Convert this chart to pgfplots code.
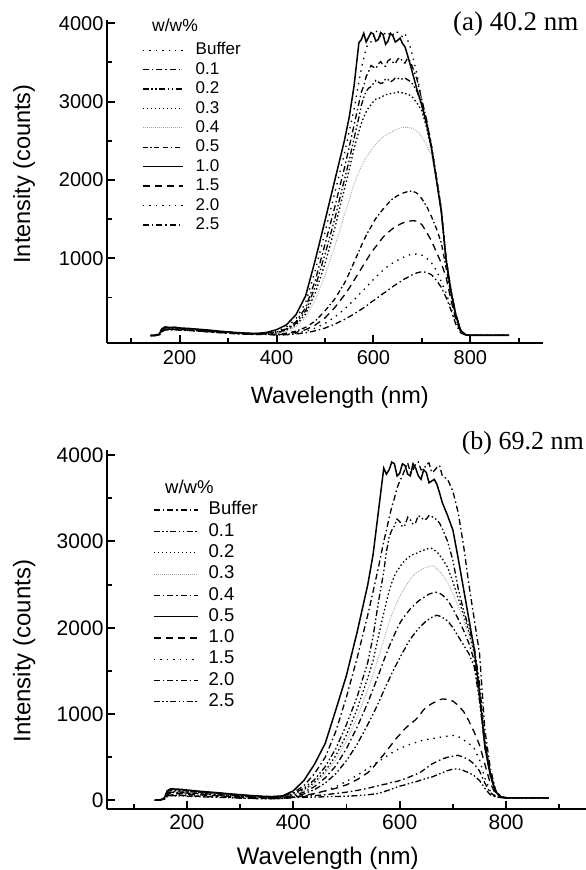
\documentclass[border=0pt]{standalone}
\usepackage{pgfplots}
\pgfplotsset{compat=1.18}
\usepackage{pgfplotstable}
\usepackage{fontspec}
\setmainfont{Liberation Sans}
\newfontfamily\seriffont{Liberation Serif}

\pgfplotstableread{
lam buf c01 c02 c03 c04 c05 c10 c15 c20 c25
140 15 15 15 15 15 15 15 15 15 15
150 18 18 17 17 16 16 20 16 15 15
158 30 32 28 30 26 25 35 24 22 20
163 90 95 85 88 80 75 100 70 65 60
170 115 120 110 112 105 100 125 95 92 88
180 110 112 105 106 100 95 118 92 88 85
190 112 115 108 110 102 98 122 95 90 88
200 105 108 100 102 96 92 112 90 86 83
220 98 100 94 96 90 86 105 84 80 78
240 88 90 85 86 80 77 95 75 72 70
260 78 80 75 76 70 68 85 66 63 61
280 66 68 64 65 60 58 72 56 54 52
300 56 58 55 55 52 50 62 48 46 44
320 48 50 47 47 44 42 52 40 38 36
340 42 43 40 41 38 36 45 35 33 31
360 40 40 38 38 36 34 42 32 30 28
380 50 48 45 44 42 38 55 35 32 30
400 70 60 50 45 40 30 90 25 20 20
420 120 100 90 80 70 45 150 35 30 25
440 230 190 170 150 130 70 280 55 45 35
460 430 370 330 290 250 120 520 90 70 50
480 850 720 640 560 470 200 980 150 110 75
500 1330 1180 1050 930 780 330 1480 240 170 110
520 1830 1650 1500 1380 1150 480 1990 370 250 160
540 2330 2150 2000 1880 1550 680 2500 530 350 220
550 2620 2420 2250 2130 1750 810 2800 620 410 255
560 2900 2700 2530 2400 1950 950 3200 720 470 290
570 3250 2980 2800 2620 2100 1090 3750 820 535 330
575 3420 3120 2950 2720 2170 1160 3790 870 570 350
580 3550 3200 3050 2800 2230 1230 3870 920 600 370
585 3680 3320 3130 2870 2290 1290 3760 970 630 390
590 3750 3380 3170 2920 2330 1350 3820 1020 665 415
595 3760 3460 3190 2960 2370 1400 3880 1070 700 440
600 3820 3440 3230 3000 2420 1460 3860 1110 730 460
605 3900 3420 3270 3030 2460 1510 3770 1150 760 480
610 3880 3480 3250 3040 2490 1550 3790 1190 790 505
615 3820 3510 3230 3050 2520 1590 3880 1230 820 530
620 3840 3460 3240 3070 2550 1630 3850 1270 850 550
625 3880 3450 3290 3090 2570 1660 3730 1300 875 570
630 3890 3520 3280 3090 2590 1700 3770 1330 900 595
635 3830 3540 3250 3100 2600 1730 3870 1355 920 615
640 3850 3500 3270 3110 2620 1760 3840 1380 940 640
645 3900 3480 3300 3110 2640 1780 3760 1400 960 660
650 3880 3540 3300 3120 2650 1800 3780 1420 975 680
655 3840 3560 3280 3120 2660 1815 3810 1435 995 700
660 3830 3510 3290 3110 2670 1830 3740 1450 1010 720
665 3870 3490 3300 3100 2670 1840 3700 1460 1020 740
670 3790 3550 3280 3100 2670 1850 3600 1470 1035 755
675 3720 3520 3260 3080 2665 1855 3490 1475 1045 775
680 3600 3450 3230 3060 2660 1860 3380 1480 1050 790
690 3350 3280 3130 2980 2620 1830 3150 1475 1055 815
700 3000 3020 2950 2880 2550 1760 2950 1430 1040 830
710 2750 2760 2720 2660 2440 1660 2700 1330 1000 820
720 2450 2420 2400 2380 2300 1530 2400 1220 940 790
730 2050 2030 2020 2010 2000 1380 2000 1080 850 720
740 1650 1620 1610 1600 1580 1200 1600 940 700 630
750 1000 990 985 975 960 880 980 760 560 500
760 600 590 585 580 570 540 580 470 370 340
770 290 285 280 275 270 260 280 220 180 160
780 85 80 80 78 75 75 80 65 55 50
790 25 25 25 25 25 25 25 25 22 22
800 18 18 18 18 18 18 18 18 18 18
820 18 18 18 18 18 18 18 18 18 18
850 18 18 18 18 18 18 18 18 18 18
880 18 18 18 18 18 18 18 18 18 18
}\toptab

\pgfplotstableread{
lam buf c01 c02 c03 c04 cx c05 c10 c15 c20 c25
140 2 2 2 2 2 2 2 2 2 2 2
150 5 5 4 4 4 4 5 3 3 2 2
158 28 27 26 24 23 21 30 18 15 14 12
163 105 99 94 88 83 77 110 66 55 50 44
170 128 122 115 108 101 95 135 81 68 61 54
180 124 117 111 104 98 91 130 78 65 59 52
190 122 115 109 102 96 90 128 77 64 58 51
200 114 108 102 96 90 84 120 72 60 54 48
220 103 97 92 86 81 76 108 65 54 49 43
240 93 88 83 78 74 69 98 59 49 44 39
260 84 79 75 70 66 62 88 53 44 40 35
280 72 68 65 61 57 53 76 46 38 34 30
300 63 59 56 53 50 46 66 40 33 30 26
320 53 50 48 45 42 39 56 34 28 25 22
340 46 43 41 38 36 34 48 29 24 22 19
360 42 40 37 35 33 31 44 26 22 20 18
380 49 47 44 42 39 36 52 31 26 23 21
400 90 80 70 65 55 45 110 40 35 35 32
420 170 140 120 110 95 75 230 55 50 45 35
440 310 240 210 190 160 125 420 80 75 55 38
460 500 390 340 310 260 200 660 110 110 65 42
480 800 600 520 470 400 310 1050 140 160 80 45
500 1200 880 760 690 600 460 1450 180 220 95 48
520 1650 1200 1060 960 850 650 1950 240 290 115 55
540 2150 1600 1420 1280 1130 880 2500 320 370 140 65
550 2420 1900 1620 1460 1290 1000 2850 380 410 155 72
560 2700 2300 1900 1650 1450 1130 3350 460 450 170 80
570 3000 2650 2170 1860 1620 1270 3850 530 490 185 100
575 3130 2880 2300 1960 1700 1340 3780 570 510 190 110
580 3270 3050 2420 2060 1780 1400 3830 610 530 200 120
585 3400 3130 2520 2150 1850 1470 3920 650 550 210 130
590 3500 3180 2600 2220 1920 1530 3900 690 570 215 145
595 3620 3260 2660 2300 1990 1590 3760 730 585 220 155
600 3700 3230 2700 2360 2050 1650 3790 760 600 230 165
605 3760 3170 2750 2420 2100 1710 3900 800 615 240 172
610 3840 3190 2780 2470 2140 1760 3880 830 625 250 180
615 3910 3280 2810 2520 2180 1820 3780 860 640 262 190
620 3800 3250 2830 2560 2220 1870 3760 880 650 275 200
625 3830 3200 2850 2600 2250 1910 3900 910 660 288 208
630 3900 3220 2860 2630 2280 1950 3850 935 670 300 215
635 3920 3300 2870 2650 2310 1990 3760 970 680 315 225
640 3830 3280 2890 2670 2330 2020 3720 1010 690 330 235
645 3840 3250 2900 2690 2350 2050 3830 1050 698 352 245
650 3890 3260 2910 2700 2370 2080 3800 1080 705 375 255
655 3910 3300 2920 2710 2390 2100 3680 1100 710 398 262
660 3800 3290 2920 2720 2400 2120 3700 1120 715 420 270
665 3820 3270 2900 2710 2410 2135 3720 1135 720 435 282
670 3860 3250 2880 2680 2410 2145 3660 1150 725 450 295
675 3880 3210 2840 2650 2400 2135 3560 1165 730 465 308
680 3760 3150 2800 2620 2380 2120 3450 1175 735 480 320
690 3720 3000 2700 2520 2320 2080 3300 1170 745 500 345
700 3580 2780 2530 2400 2220 2000 3130 1150 752 512 362
710 3330 2450 2340 2250 2100 1900 2800 1100 740 522 365
720 2950 2200 2150 2080 1970 1800 2450 1030 700 500 345
730 2500 2000 1950 1900 1820 1700 2100 920 660 470 320
740 2100 1780 1720 1680 1620 1550 1750 790 600 420 285
750 1700 1350 1300 1250 1200 1150 1250 640 470 340 230
760 820 700 680 660 640 620 620 420 260 200 140
770 380 330 320 310 300 290 300 200 110 90 65
780 120 110 105 100 100 95 100 75 50 45 38
790 45 42 40 40 40 38 40 35 32 32 32
800 30 30 30 30 30 30 30 30 30 30 30
820 30 30 30 30 30 30 30 30 30 30 30
850 30 30 30 30 30 30 30 30 30 30 30
880 30 30 30 30 30 30 30 30 30 30 30
}\bottab

\tikzset{
  sdot/.style={dash pattern=on 1.4pt off 5pt},
  dd/.style={dash pattern=on 6pt off 3pt on 1.5pt off 3pt},
  ddd/.style={dash pattern=on 6pt off 2.5pt on 1.5pt off 2.5pt on 1.5pt off 2.5pt},
  ndot/.style={dash pattern=on 1.5pt off 2.5pt},
  gdot/.style={gray!70, line width=1pt, dash pattern=on 0.8pt off 1.2pt},
  ddash/.style={dash pattern=on 5pt off 2.5pt on 1.5pt off 2.5pt on 5pt off 4pt},
  ldash/.style={dash pattern=on 7pt off 5pt},
}

\pgfplotsset{
  panel/.style={
    scale only axis,
    axis lines*=left,
    xmin=50, xmax=950,
    xtick={200,400,600,800},
    minor xtick={100,300,500,700,900},
    tick align=inside,
    major tick length=8pt, minor tick length=5pt,
    axis line style={line width=2.4pt, black},
    major tick style={line width=2pt, black},
    minor tick style={line width=1.8pt, black},
    /pgf/number format/assume math mode=true,
    /pgf/number format/1000 sep={},
    legend cell align=left,
    legend image code/.code={\draw[##1] (0pt,0pt) -- (40pt,0pt);},
    every axis plot/.append style={black, line width=1.3pt},
  },
}

\begin{document}
\begin{tikzpicture}
\path[use as bounding box] (0,0) rectangle (586pt,870pt);

% ---------- panel (a) ----------
\begin{axis}[panel,
  at={(107pt,527pt)}, anchor=south west,
  width=436pt, height=323pt,
  ymin=-80, ymax=4040,
  ytick={1000,2000,3000,4000},
  minor ytick={500,1500,2500,3500},
  tick label style={font=\fontsize{20}{20}\selectfont},
  xticklabel style={yshift=-4pt},
  xlabel={Wavelength (nm)},
  ylabel={Intensity (counts)},
  xlabel style={at={(axis description cs:0.534,-0.167)}, anchor=center, font=\fontsize{23.5}{23.5}\selectfont},
  ylabel style={at={(axis description cs:-0.190,0.523)}, anchor=center, font=\fontsize{23.5}{23.5}\selectfont},
  legend style={at={(axis description cs:0.0803,0.930)}, anchor=north west, draw=none, fill=none,
    font=\fontsize{17}{17}\selectfont, inner sep=0pt, row sep=4.4pt,
    nodes={inner sep=0pt, text height=12pt, text depth=3pt},
    /tikz/every odd column/.append style={column sep=12pt}},
]
\addplot[sdot] table[x=lam,y=buf]{\toptab}; \addlegendentry{Buffer}
\addplot[dd] table[x=lam,y=c01]{\toptab}; \addlegendentry{0.1}
\addplot[ddd] table[x=lam,y=c02]{\toptab}; \addlegendentry{0.2}
\addplot[ndot] table[x=lam,y=c03]{\toptab}; \addlegendentry{0.3}
\addplot[gdot] table[x=lam,y=c04]{\toptab}; \addlegendentry{0.4}
\addplot[ddash] table[x=lam,y=c05]{\toptab}; \addlegendentry{0.5}
\addplot[solid, line width=1.5pt] table[x=lam,y=c10]{\toptab}; \addlegendentry{1.0}
\addplot[ldash] table[x=lam,y=c15]{\toptab}; \addlegendentry{1.5}
\addplot[sdot] table[x=lam,y=c20]{\toptab}; \addlegendentry{2.0}
\addplot[dd] table[x=lam,y=c25]{\toptab}; \addlegendentry{2.5}
\end{axis}
\node[anchor=west, inner sep=0pt, font=\fontsize{17.5}{17.5}\selectfont] at (152pt,845pt) {w/w\%};
\node[anchor=west, inner sep=0pt, font=\seriffont\fontsize{27}{27}\selectfont] at (453pt,846pt) {(a) 40.2 nm};

% ---------- panel (b) ----------
\begin{axis}[panel,
  at={(107pt,61pt)}, anchor=south west,
  width=479pt, height=359pt,
  ymin=-100, ymax=4060,
  ytick={0,1000,2000,3000,4000},
  minor ytick={500,1500,2500,3500},
  tick label style={font=\fontsize{21}{21}\selectfont},
  xticklabel style={yshift=-2pt},
  xlabel={Wavelength (nm)},
  ylabel={Intensity (counts)},
  xlabel style={at={(axis description cs:0.461,-0.136)}, anchor=center, font=\fontsize{24}{24}\selectfont},
  ylabel style={at={(axis description cs:-0.173,0.44)}, anchor=center, font=\fontsize{24}{24}\selectfont},
  legend image code/.code={\draw[#1] (0pt,0pt) -- (44pt,0pt);},
  legend style={at={(axis description cs:0.096,0.856)}, anchor=north west, draw=none, fill=none,
    font=\fontsize{18.5}{18.5}\selectfont, inner sep=0pt, row sep=4.8pt,
    nodes={inner sep=0pt, text height=13pt, text depth=3.5pt},
    /tikz/every odd column/.append style={column sep=10pt}},
]
\addplot[dd] table[x=lam,y=buf]{\bottab}; \addlegendentry{Buffer}
\addplot[ddd] table[x=lam,y=c01]{\bottab}; \addlegendentry{0.1}
\addplot[ndot] table[x=lam,y=c02]{\bottab}; \addlegendentry{0.2}
\addplot[gdot] table[x=lam,y=c03]{\bottab}; \addlegendentry{0.3}
\addplot[dd] table[x=lam,y=c04]{\bottab}; \addlegendentry{0.4}
\addplot[solid, line width=1.5pt] table[x=lam,y=c05]{\bottab}; \addlegendentry{0.5}
\addplot[ldash] table[x=lam,y=c10]{\bottab}; \addlegendentry{1.0}
\addplot[sdot] table[x=lam,y=c15]{\bottab}; \addlegendentry{1.5}
\addplot[dd] table[x=lam,y=c20]{\bottab}; \addlegendentry{2.0}
\addplot[ddd] table[x=lam,y=c25]{\bottab}; \addlegendentry{2.5}
\addplot[ddd, forget plot] table[x=lam,y=cx]{\bottab};
\end{axis}
\node[anchor=west, inner sep=0pt, font=\fontsize{18.5}{18.5}\selectfont] at (165pt,383pt) {w/w\%};
\node[anchor=east, inner sep=0pt, font=\seriffont\fontsize{26}{26}\selectfont] at (584pt,426.5pt) {(b) 69.2 nm};
\end{tikzpicture}
\end{document}
